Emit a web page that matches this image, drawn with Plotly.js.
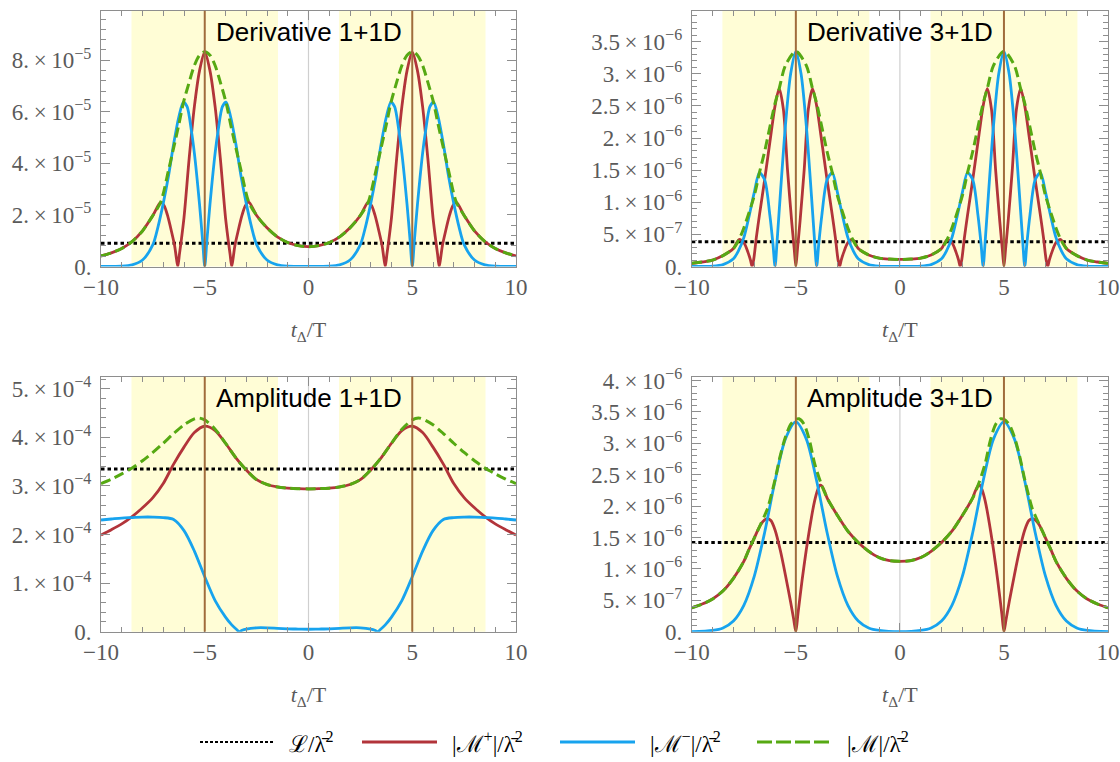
<!DOCTYPE html>
<html><head><meta charset="utf-8">
<script src="https://cdn.plot.ly/plotly-3.0.1.min.js"></script>
<style>html,body{margin:0;padding:0;background:#fff}#chart{width:1120px;height:762px}</style>
</head><body><div id="chart"></div>
<script>
// ---------- Derivative 1+1D (values in units of 1e-5) ----------
const der1_L = 0.9;
const der1_xM = [-10,-9.5,-9,-8.5,-8,-7.5,-7.12,-6.75,-6.5,-6.25,-6.03,-5.75,-5.5,-5.25,-5,-4.75,-4.5,-4.25,-3.97,-3.75,-3.5,-3.25,-2.88,-2.5,-2,-1.5,-1,-0.5,0,0.5,1,1.5,2,2.5,2.88,3.25,3.5,3.75,3.97,4.25,4.5,4.75,5,5.25,5.5,5.75,6.03,6.25,6.5,6.75,7.12,7.5,8,8.5,9,9.5,10];
const der1_yM = [0.41,0.53,0.7,0.97,1.38,1.98,2.5,3.72,4.6,5.5,6.35,7.15,7.8,8.2,8.33,8.2,7.8,7.15,6.35,5.5,4.6,3.72,2.5,1.98,1.5,1.15,0.93,0.81,0.77,0.81,0.93,1.15,1.5,1.98,2.5,3.72,4.6,5.5,6.35,7.15,7.8,8.2,8.33,8.2,7.8,7.15,6.35,5.5,4.6,3.72,2.5,1.98,1.38,0.97,0.7,0.53,0.41];
const der1_xMp = [-10,-9.5,-9,-8.5,-8,-7.5,-7.12,-6.95,-6.8,-6.6,-6.45,-6.38,-6.3,-6.22,-6.15,-6,-5.75,-5.5,-5.25,-5,-4.75,-4.5,-4.25,-4,-3.85,-3.78,-3.7,-3.62,-3.55,-3.4,-3.2,-3.05,-2.88,-2.5,-2,-1.5,-1,-0.5,0,0.5,1,1.5,2,2.5,2.88,3.05,3.2,3.4,3.55,3.62,3.7,3.78,3.85,4,4.25,4.5,4.75,5,5.25,5.5,5.75,6,6.15,6.22,6.3,6.38,6.45,6.6,6.8,6.95,7.12,7.5,8,8.5,9,9.5,10];
const der1_yMp = [0.41,0.53,0.7,0.97,1.38,1.98,2.5,2.35,2.0,1.35,0.8,0.4,0,0.48,0.9,1.9,4.2,6.2,7.6,8.33,7.6,6.2,4.2,1.9,0.9,0.48,0,0.4,0.8,1.35,2.0,2.35,2.5,1.98,1.5,1.15,0.93,0.81,0.77,0.81,0.93,1.15,1.5,1.98,2.5,2.35,2.0,1.35,0.8,0.4,0,0.48,0.9,1.9,4.2,6.2,7.6,8.33,7.6,6.2,4.2,1.9,0.9,0.48,0,0.4,0.8,1.35,2.0,2.35,2.5,1.98,1.38,0.97,0.7,0.53,0.41];
const der1_xMm = [-10,-9,-8.5,-8,-7.5,-7.25,-7,-6.75,-6.5,-6.25,-6.03,-5.85,-5.65,-5.5,-5.25,-5.1,-5,-4.9,-4.75,-4.5,-4.35,-4.15,-3.97,-3.75,-3.5,-3.25,-3,-2.75,-2.5,-2,-1.5,-1,0,1,1.5,2,2.5,2.75,3,3.25,3.5,3.75,3.97,4.15,4.35,4.5,4.75,4.9,5,5.1,5.25,5.5,5.65,5.85,6.03,6.25,6.5,6.75,7,7.25,7.5,8,8.5,9,10];
const der1_yMm = [0,0.01,0.06,0.25,0.85,1.55,2.45,3.5,4.75,5.8,6.38,6.2,5.3,4.4,2.4,0.97,0,0.97,2.4,4.4,5.3,6.2,6.38,5.8,4.75,3.5,2.45,1.55,0.85,0.25,0.06,0.01,0,0.01,0.06,0.25,0.85,1.55,2.45,3.5,4.75,5.8,6.38,6.2,5.3,4.4,2.4,0.97,0,0.97,2.4,4.4,5.3,6.2,6.38,5.8,4.75,3.5,2.45,1.55,0.85,0.25,0.06,0.01,0];

// ---------- Derivative 3+1D (units of 1e-6) ----------
const der3_L = 0.385;
const der3_xM = [-10,-9.5,-9,-8.5,-8,-7.73,-7.5,-7,-6.75,-6.5,-6,-5.8,-5.5,-5,-4.5,-4.2,-4,-3.5,-3.25,-3,-2.5,-2.27,-2,-1.5,-1,-0.5,0,0.5,1,1.5,2,2.27,2.5,3,3.25,3.5,4,4.2,4.5,5,5.5,5.8,6,6.5,6.75,7,7.5,7.73,8,8.5,9,9.5,10];
const der3_yM = [0.05,0.07,0.1,0.17,0.28,0.42,0.6,1.1,1.46,1.79,2.54,2.77,3.13,3.35,3.13,2.77,2.54,1.79,1.46,1.1,0.6,0.42,0.28,0.18,0.13,0.115,0.11,0.115,0.13,0.18,0.28,0.42,0.6,1.1,1.46,1.79,2.54,2.77,3.13,3.35,3.13,2.77,2.54,1.79,1.46,1.1,0.6,0.42,0.28,0.17,0.1,0.07,0.05];
const der3_xMp = [-10,-9.5,-9,-8.5,-8,-7.73,-7.5,-7.3,-7.18,-7.1,-7.02,-6.9,-6.75,-6.5,-6.2,-6,-5.8,-5.6,-5.4,-5.2,-5.08,-5,-4.92,-4.8,-4.6,-4.4,-4.2,-4,-3.8,-3.5,-3.25,-3.1,-2.98,-2.9,-2.82,-2.7,-2.5,-2.27,-2,-1.5,-1,-0.5,0,0.5,1,1.5,2,2.27,2.5,2.7,2.82,2.9,2.98,3.1,3.25,3.5,3.8,4,4.2,4.4,4.6,4.8,4.92,5,5.08,5.2,5.4,5.6,5.8,6,6.2,6.5,6.75,6.9,7.02,7.1,7.18,7.3,7.5,7.73,8,8.5,9,9.5,10];
const der3_yMp = [0.05,0.07,0.1,0.17,0.28,0.42,0.37,0.22,0.1,0,0.12,0.45,0.8,1.35,2.05,2.5,2.77,2.45,1.5,0.7,0.28,0,0.28,0.7,1.5,2.45,2.77,2.5,2.05,1.35,0.8,0.45,0.12,0,0.1,0.22,0.37,0.42,0.28,0.18,0.13,0.115,0.11,0.115,0.13,0.18,0.28,0.42,0.37,0.22,0.1,0,0.12,0.45,0.8,1.35,2.05,2.5,2.77,2.45,1.5,0.7,0.28,0,0.28,0.7,1.5,2.45,2.77,2.5,2.05,1.35,0.8,0.45,0.12,0,0.1,0.22,0.37,0.42,0.28,0.17,0.1,0.07,0.05];
const der3_xMm = [-10,-9,-8.5,-8,-7.75,-7.5,-7.25,-7,-6.75,-6.5,-6.25,-6.1,-6,-5.9,-5.75,-5.5,-5.25,-5,-4.75,-4.5,-4.25,-4.1,-4,-3.9,-3.75,-3.5,-3.25,-3,-2.75,-2.5,-2.25,-2,-1.5,-1,0,1,1.5,2,2.25,2.5,2.75,3,3.25,3.5,3.75,3.9,4,4.1,4.25,4.5,4.75,5,5.25,5.5,5.75,5.9,6,6.1,6.25,6.5,6.75,7,7.25,7.5,7.75,8,8.5,9,10];
const der3_yMm = [0,0.005,0.03,0.12,0.25,0.45,0.78,1.15,1.46,1.35,0.8,0.35,0,0.4,1.1,2.2,3.0,3.35,3.0,2.2,1.1,0.4,0,0.35,0.8,1.35,1.46,1.15,0.78,0.45,0.25,0.12,0.03,0.005,0,0.005,0.03,0.12,0.25,0.45,0.78,1.15,1.46,1.35,0.8,0.35,0,0.4,1.1,2.2,3.0,3.35,3.0,2.2,1.1,0.4,0,0.35,0.8,1.35,1.46,1.15,0.78,0.45,0.25,0.12,0.03,0.005,0];

// ---------- Amplitude 1+1D (units of 1e-4) ----------
const amp1_L = 3.35;
const amp1_xM = [-10,-9.5,-9,-8.5,-8,-7.5,-7,-6.5,-6,-5.5,-5.3,-5,-4.5,-4,-3.5,-3,-2.5,-2,-1.5,-1,-0.5,0,0.5,1,1.5,2,2.5,3,3.5,4,4.5,5,5.3,5.5,6,6.5,7,7.5,8,8.5,9,9.5,10];
const amp1_yM = [3.05,3.14,3.25,3.37,3.52,3.69,3.88,4.08,4.26,4.38,4.4,4.36,4.17,3.88,3.58,3.33,3.13,3.03,2.98,2.955,2.945,2.94,2.945,2.955,2.98,3.03,3.13,3.33,3.58,3.88,4.17,4.36,4.4,4.38,4.26,4.08,3.88,3.69,3.52,3.37,3.25,3.14,3.05];
const amp1_xMp = [-10,-9.5,-9,-8.5,-8,-7.5,-7,-6.5,-6,-5.5,-5,-4.5,-4,-3.5,-3,-2.5,-2,-1.5,-1,-0.5,0,0.5,1,1.5,2,2.5,3,3.5,4,4.5,5,5.5,6,6.5,7,7.5,8,8.5,9,9.5,10];
const amp1_yMp = [1.99,2.1,2.22,2.37,2.55,2.76,3.05,3.45,3.8,4.1,4.23,4.14,3.88,3.58,3.33,3.13,3.03,2.98,2.955,2.945,2.94,2.945,2.955,2.98,3.03,3.13,3.33,3.58,3.88,4.14,4.23,4.1,3.8,3.45,3.05,2.76,2.55,2.37,2.22,2.1,1.99];
const amp1_xMm = [-10,-9.5,-9,-8.5,-8,-7.5,-7,-6.5,-6,-5.5,-5,-4.5,-4,-3.7,-3.45,-3.33,-3.2,-3,-2.5,-2,-1.5,-1,-0.5,0,0.5,1,1.5,2,2.5,3,3.2,3.33,3.45,3.7,4,4.5,5,5.5,6,6.5,7,7.5,8,8.5,9,9.5,10];
const amp1_yMm = [2.3,2.32,2.34,2.35,2.36,2.36,2.35,2.31,2.08,1.66,1.13,0.64,0.3,0.14,0.04,0,0.03,0.055,0.08,0.08,0.07,0.06,0.055,0.05,0.055,0.06,0.07,0.08,0.08,0.055,0.03,0,0.04,0.14,0.3,0.64,1.13,1.66,2.08,2.31,2.35,2.36,2.36,2.35,2.34,2.32,2.3];

// ---------- Amplitude 3+1D (units of 1e-6) ----------
const amp3_L = 1.42;
const amp3_xM = [-10,-9.5,-9,-8.5,-8,-7.5,-7.25,-7,-6.75,-6.5,-6.35,-6.2,-6,-5.75,-5.5,-5.25,-5,-4.85,-4.6,-4.35,-4.1,-3.81,-3.5,-3,-2.5,-2,-1.5,-1,-0.5,0,0.5,1,1.5,2,2.5,3,3.5,3.81,4.1,4.35,4.6,4.85,5,5.25,5.5,5.75,6,6.2,6.35,6.5,6.75,7,7.25,7.5,8,8.5,9,9.5,10];
const amp3_yM = [0.38,0.44,0.52,0.65,0.85,1.12,1.31,1.49,1.67,1.85,1.97,2.15,2.42,2.8,3.1,3.3,3.38,3.39,3.3,3.05,2.68,2.38,2.13,1.85,1.6,1.42,1.28,1.18,1.13,1.12,1.13,1.18,1.28,1.42,1.6,1.85,2.13,2.38,2.68,3.05,3.3,3.39,3.38,3.3,3.1,2.8,2.42,2.15,1.97,1.85,1.67,1.49,1.31,1.12,0.85,0.65,0.52,0.44,0.38];
const amp3_xMp = [-10,-9.5,-9,-8.5,-8,-7.5,-7.25,-7,-6.85,-6.7,-6.5,-6.35,-6.2,-6,-5.75,-5.5,-5.25,-5.1,-5,-4.9,-4.7,-4.5,-4.25,-4.1,-3.95,-3.85,-3.75,-3.6,-3.5,-3,-2.5,-2,-1.5,-1,-0.5,0,0.5,1,1.5,2,2.5,3,3.5,3.6,3.75,3.85,3.95,4.1,4.25,4.5,4.7,4.9,5,5.1,5.25,5.5,5.75,6,6.2,6.35,6.5,6.7,6.85,7,7.25,7.5,8,8.5,9,9.5,10];
const amp3_yMp = [0.38,0.44,0.52,0.65,0.85,1.12,1.31,1.49,1.6,1.7,1.78,1.8,1.77,1.62,1.3,0.9,0.47,0.19,0,0.28,0.82,1.3,1.82,2.08,2.26,2.33,2.32,2.22,2.13,1.85,1.6,1.42,1.28,1.18,1.13,1.12,1.13,1.18,1.28,1.42,1.6,1.85,2.13,2.22,2.32,2.33,2.26,2.08,1.82,1.3,0.82,0.28,0,0.19,0.47,0.9,1.3,1.62,1.77,1.8,1.78,1.7,1.6,1.49,1.31,1.12,0.85,0.65,0.52,0.44,0.38];
const amp3_xMm = [-10,-9,-8.5,-8,-7.5,-7,-6.5,-6,-5.5,-5,-4.5,-4,-3.5,-3,-2.5,-2,-1.5,-1,0,1,1.5,2,2.5,3,3.5,4,4.5,5,5.5,6,6.5,7,7.5,8,8.5,9,10];
const amp3_yMm = [0,0.02,0.06,0.17,0.42,0.88,1.58,2.4,3.07,3.34,3.07,2.4,1.58,0.88,0.42,0.17,0.06,0.02,0,0.02,0.06,0.17,0.42,0.88,1.58,2.4,3.07,3.34,3.07,2.4,1.58,0.88,0.42,0.17,0.06,0.02,0];

// ---------- tick labels ----------
const xTickVals = [-10,-5,0,5,10];
const xTickText = ['\u221210','\u22125','0','5','10'];
const der1_tickVals = [0,2,4,6,8];
const der1_tickText = ['0.','2.\u2009\u00d7\u200910<sup>\u22125</sup>','4.\u2009\u00d7\u200910<sup>\u22125</sup>','6.\u2009\u00d7\u200910<sup>\u22125</sup>','8.\u2009\u00d7\u200910<sup>\u22125</sup>'];
const der3_tickVals = [0,0.5,1,1.5,2,2.5,3,3.5];
const der3_tickText = ['0.','5.\u2009\u00d7\u200910<sup>\u22127</sup>','1.\u2009\u00d7\u200910<sup>\u22126</sup>','1.5\u2009\u00d7\u200910<sup>\u22126</sup>','2.\u2009\u00d7\u200910<sup>\u22126</sup>','2.5\u2009\u00d7\u200910<sup>\u22126</sup>','3.\u2009\u00d7\u200910<sup>\u22126</sup>','3.5\u2009\u00d7\u200910<sup>\u22126</sup>'];
const amp1_tickVals = [0,1,2,3,4,5];
const amp1_tickText = ['0.','1.\u2009\u00d7\u200910<sup>\u22124</sup>','2.\u2009\u00d7\u200910<sup>\u22124</sup>','3.\u2009\u00d7\u200910<sup>\u22124</sup>','4.\u2009\u00d7\u200910<sup>\u22124</sup>','5.\u2009\u00d7\u200910<sup>\u22124</sup>'];
const amp3_tickVals = [0,0.5,1,1.5,2,2.5,3,3.5,4];
const amp3_tickText = der3_tickText.concat(['4.\u2009\u00d7\u200910<sup>\u22126</sup>']);

const titles = ['Derivative 1+1D','Derivative 3+1D','Amplitude 1+1D','Amplitude 3+1D'];

// ---------- styling ----------
const C_RED = '#B2343A', C_BLUE = '#17A3EE', C_GREEN = '#56A913', C_BROWN = '#A06C3C',
      C_YELLOW = '#FFFDD6', C_FRAME = '#8E8E8E', C_TICKTXT = '#5A5A5A';
const W = 1120, H = 762;
const px = v => v / W, py = v => 1 - v / H;

const panels = [
  {xM:der1_xM,yM:der1_yM,xMp:der1_xMp,yMp:der1_yMp,xMm:der1_xMm,yMm:der1_yMm,L:der1_L,
   tv:der1_tickVals,tt:der1_tickText,range:[0,9.92],minor:0.4,xd:[101,516],yd:[10.8,266.5]},
  {xM:der3_xM,yM:der3_yM,xMp:der3_xMp,yMp:der3_yMp,xMm:der3_xMm,yMm:der3_yMm,L:der3_L,
   tv:der3_tickVals,tt:der3_tickText,range:[0,3.98],minor:0.1,xd:[691.8,1108],yd:[10.8,266.5]},
  {xM:amp1_xM,yM:amp1_yM,xMp:amp1_xMp,yMp:amp1_yMp,xMm:amp1_xMm,yMm:amp1_yMm,L:amp1_L,
   tv:amp1_tickVals,tt:amp1_tickText,range:[0,5.25],minor:0.2,xd:[101,516],yd:[376.7,631.7]},
  {xM:amp3_xM,yM:amp3_yM,xMp:amp3_xMp,yMp:amp3_yMp,xMm:amp3_xMm,yMm:amp3_yMm,L:amp3_L,
   tv:amp3_tickVals,tt:amp3_tickText,range:[0,4.06],minor:0.1,xd:[691.8,1108],yd:[376.7,631.7]}
];

const traces = [], shapes = [], annotations = [];
const layout = {
  width: W, height: H, margin: {l:0,r:0,t:0,b:0},
  paper_bgcolor: '#fff', plot_bgcolor: '#fff', showlegend: false,
  font: {family: 'Liberation Serif, Times New Roman, serif'}
};

function minorVals(lo, hi, step, majors) {
  const out = [];
  const n = Math.round((hi - lo) / step);
  for (let i = 0; i <= n; i++) {
    const v = +(lo + i * step).toFixed(4);
    if (v > hi) break;
    if (!majors.some(m => Math.abs(m - v) < 1e-6)) out.push(v);
  }
  return out;
}

panels.forEach((p, i) => {
  const k = i === 0 ? '' : String(i + 1);
  const xa = 'x' + k, ya = 'y' + k;
  const common = {
    ticks: 'inside', tickcolor: C_FRAME, tickwidth: 1, showline: true, linecolor: C_FRAME, linewidth: 1,
    mirror: 'allticks', showgrid: false, zeroline: false,
    tickfont: {family: 'Liberation Serif, Times New Roman, serif', size: 23, color: C_TICKTXT}
  };
  layout['xaxis' + k] = Object.assign({}, common, {
    domain: [px(p.xd[0]), px(p.xd[1])], anchor: ya, range: [-10, 10],
    tickmode: 'array', tickvals: xTickVals, ticktext: xTickText, ticklen: 9,
    minor: {tickmode: 'array', tickvals: minorVals(-10, 10, 1, xTickVals), ticklen: 5, tickcolor: C_FRAME, ticks: 'inside'},
    ticklabelstandoff: 0,
    title: {text: '<i>t</i><sub>\u0394</sub>/T', font: {family: 'Liberation Serif, Times New Roman, serif', size: 22, color: C_TICKTXT}, standoff: 22}
  });
  layout['yaxis' + k] = Object.assign({}, common, {
    domain: [py(p.yd[1]), py(p.yd[0])], anchor: xa, range: p.range,
    tickmode: 'array', tickvals: p.tv, ticktext: p.tt, ticklen: 9,
    minor: {tickmode: 'array', tickvals: minorVals(0, p.range[1], p.minor, p.tv), ticklen: 5, tickcolor: C_FRAME, ticks: 'inside'},
    ticklabelstandoff: 4
  });

  // shaded bands, center line, markers at ±5
  [[-8.53, -1.47], [1.47, 8.53]].forEach(b => shapes.push({
    type: 'rect', xref: xa, yref: ya + ' domain', x0: b[0], x1: b[1], y0: 0, y1: 1,
    fillcolor: C_YELLOW, line: {width: 0}, layer: 'below'}));
  shapes.push({type: 'line', xref: xa, yref: ya + ' domain', x0: 0, x1: 0, y0: 0, y1: 1,
    line: {color: '#CFCFCF', width: 1.2}, layer: 'below'});
  [-5, 5].forEach(v => shapes.push({type: 'line', xref: xa, yref: ya + ' domain', x0: v, x1: v, y0: 0, y1: 1,
    line: {color: C_BROWN, width: 2}, layer: 'above'}));

  traces.push({x: [-10, 10], y: [p.L, p.L], xaxis: xa, yaxis: ya, mode: 'lines',
    line: {color: '#000', width: 3, dash: '3.5px,3px'}, hoverinfo: 'skip'});
  traces.push({x: p.xMp, y: p.yMp, xaxis: xa, yaxis: ya, mode: 'lines',
    line: {color: C_RED, width: 2.8, shape: 'spline', smoothing: 0.8}});
  traces.push({x: p.xMm, y: p.yMm, xaxis: xa, yaxis: ya, mode: 'lines',
    line: {color: C_BLUE, width: 2.8, shape: 'spline', smoothing: 0.8}});
  traces.push({x: p.xM, y: p.yM, xaxis: xa, yaxis: ya, mode: 'lines',
    line: {color: C_GREEN, width: 3, dash: '10px,5px', shape: 'spline', smoothing: 0.8}});

  annotations.push({text: titles[i], xref: xa, yref: 'paper', x: 0, y: py(p.yd[0] + 21),
    xanchor: 'center', yanchor: 'middle', showarrow: false,
    font: {family: 'Liberation Sans, Arial, sans-serif', size: 26, color: '#000'}});
});

// ---------- custom legend ----------
const legY = py(742);
const legItems = [
  {x0: 200, x1: 275, tx: 287, color: '#000', dash: '3px,2px', width: 2, text: '\u2112/\u03bb\u0304<sup>2</sup>'},
  {x0: 362, x1: 437, tx: 450, color: C_RED, dash: 'solid', width: 3, text: '|\u2133<sup>+</sup>|/\u03bb\u0304<sup>2</sup>'},
  {x0: 560, x1: 635, tx: 648, color: C_BLUE, dash: 'solid', width: 3, text: '|\u2133<sup>\u2212</sup>|/\u03bb\u0304<sup>2</sup>'},
  {x0: 757, x1: 832, tx: 845, color: C_GREEN, dash: '15px,4px', width: 3, text: '|\u2133|/\u03bb\u0304<sup>2</sup>'}
];
legItems.forEach(it => {
  shapes.push({type: 'line', xref: 'paper', yref: 'paper', x0: px(it.x0), x1: px(it.x1), y0: legY, y1: legY,
    line: {color: it.color, width: it.width, dash: it.dash}});
  annotations.push({text: it.text, xref: 'paper', yref: 'paper', x: px(it.tx), y: legY,
    xanchor: 'left', yanchor: 'middle', showarrow: false,
    font: {family: 'Liberation Serif, DejaVu Serif, serif', size: 23, color: '#000'}});
});

layout.shapes = shapes;
layout.annotations = annotations;

Plotly.newPlot('chart', traces, layout, {staticPlot: true, displayModeBar: false});
</script></body></html>
